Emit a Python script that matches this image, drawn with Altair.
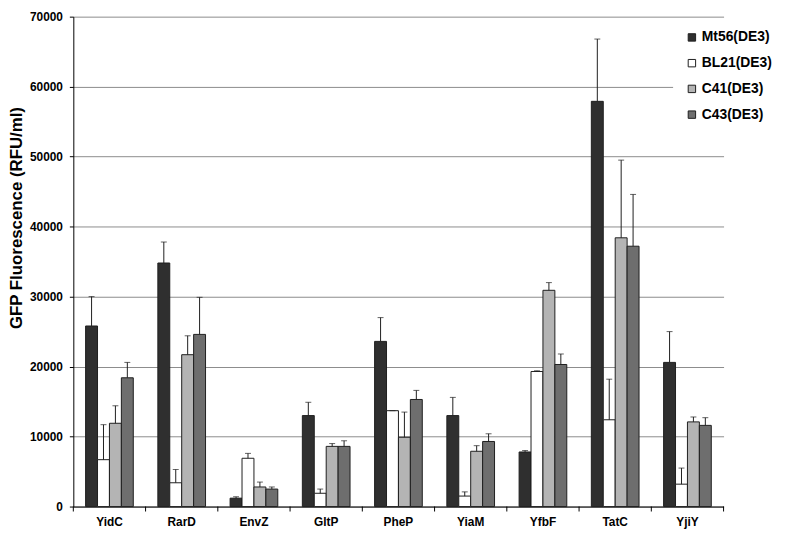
import altair as alt
import pandas as pd

proteins = ["YidC", "RarD", "EnvZ", "GltP", "PheP", "YiaM", "YfbF", "TatC", "YjiY"]
strains = ["Mt56(DE3)", "BL21(DE3)", "C41(DE3)", "C43(DE3)"]
colors = ["#2f2f2f", "#ffffff", "#b4b4b4", "#6e6e6e"]

mt56 = [25800, 34800, 1200, 13000, 23600, 13000, 7800, 57900, 20600]
mt56_err = [30000, 37800, 1400, 14900, 27000, 15600, 8000, 66800, 25000]
bl21 = [6700, 3400, 6900, 1900, 13700, 1500, 19300, 12400, 3200]
bl21_err = [11700, 5300, 7600, 2500, 13700, 2100, 19400, 18200, 5500]
c41 = [11900, 21700, 2800, 8600, 9900, 7900, 30900, 38400, 12100]
c41_err = [14400, 24400, 3500, 9000, 13500, 8700, 32000, 49500, 12800]
c43 = [18400, 24600, 2500, 8600, 15300, 9300, 20300, 37200, 11600]
c43_err = [20600, 29900, 2800, 9400, 16600, 10400, 21800, 44600, 12700]

rows = []
for s, vals, errs in zip(strains, [mt56, bl21, c41, c43], [mt56_err, bl21_err, c41_err, c43_err]):
    for p, v, e in zip(proteins, vals, errs):
        rows.append({"protein": p, "strain": s, "value": v, "err": e})
df = pd.DataFrame(rows)
tick_df = pd.DataFrame({"protein": proteins})
last_df = pd.DataFrame({"protein": proteins[-1:]})

W, H = 657, 495
step = W / len(proteins)

font = "Liberation Sans"
x = alt.X("protein:N", sort=proteins, title=None,
          scale=alt.Scale(paddingInner=0.34, paddingOuter=0.17),
          axis=alt.Axis(labelAngle=0, labelFont=font, labelFontWeight="bold", labelFontSize=12,
                        labelColor="#000", labelPadding=10, ticks=False,
                        domainColor="#000", grid=False))
xo = alt.XOffset("strain:N", sort=strains, scale=alt.Scale(domain=strains, paddingInner=0, paddingOuter=0))
y = alt.Y("value:Q", title="GFP Fluorescence (RFU/ml)",
          scale=alt.Scale(domain=[0, 70000], nice=False),
          axis=alt.Axis(values=list(range(0, 70001, 10000)), format="d", labelFont=font,
                        labelFontWeight="bold", labelFontSize=12, labelColor="#000", labelPadding=7,
                        titleFont=font, titleFontWeight="bold", titleFontSize=17, titleColor="#000",
                        titlePadding=4, titleY=203, tickSize=4, tickColor="#000", domainColor="#000",
                        gridColor="#8c8c8c", gridWidth=1))

bars = alt.Chart(df).mark_bar(stroke="#1e1e1e", strokeWidth=1).encode(
    x=x, xOffset=xo, y=y,
    color=alt.Color("strain:N", sort=strains, scale=alt.Scale(domain=strains, range=colors),
                    legend=alt.Legend(title=None, orient="none", legendX=606, legendY=2,
                                      fillColor="white", padding=12, symbolType="square",
                                      symbolSize=56, symbolStrokeColor="#1e1e1e", symbolStrokeWidth=1,
                                      labelFont=font, labelFontWeight="bold", labelFontSize=14,
                                      labelColor="#000", rowPadding=12, labelOffset=3))
)
rules = alt.Chart(df).mark_rule(color="#1e1e1e", strokeWidth=1).encode(
    x=x, xOffset=xo, y="value:Q", y2="err:Q")
caps = alt.Chart(df).mark_tick(color="#1e1e1e", thickness=1, size=6).encode(
    x=x, xOffset=xo, y="err:Q")
xticks = alt.Chart(tick_df).mark_rule(color="#000", strokeWidth=1, xOffset=-step / 2).encode(
    x=alt.X("protein:N", sort=proteins), y=alt.value(H), y2=alt.value(H + 5))
xtick_end = alt.Chart(last_df).mark_rule(color="#000", strokeWidth=1, xOffset=step / 2).encode(
    x=alt.X("protein:N", sort=proteins), y=alt.value(H), y2=alt.value(H + 5))

chart = alt.layer(bars, rules, caps, xticks, xtick_end).properties(
    width=W, height=H, autosize="none",
    padding={"left": 66, "top": 6, "right": 56, "bottom": 27}
).configure_view(stroke=None)

chart.save("out.html", embed_options={"renderer": "svg", "actions": False})
